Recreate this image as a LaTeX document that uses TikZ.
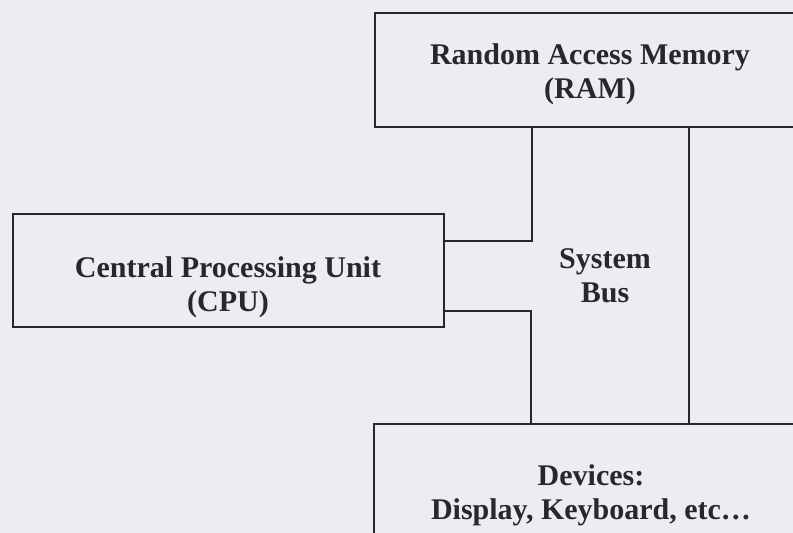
\documentclass[tikz,border=0pt]{standalone}
\usepackage{fontspec}
\setmainfont{Liberation Serif}
\definecolor{paper}{RGB}{236,236,242}
\definecolor{ink}{RGB}{40,40,44}
\begin{document}
\begin{tikzpicture}[x=1pt,y=-1pt,
  unitbox/.style={draw=ink, line width=1.8pt, rectangle, inner sep=0pt, anchor=north west},
  caption/.style={text=ink, font=\bfseries\fontsize{30}{34}\selectfont, align=center, inner sep=0pt},
  wire/.style={draw=ink, line width=1.8pt}]
  % page
  \useasboundingbox (0,0) rectangle (793,533);
  \fill[paper] (0,0) rectangle (793,533);
  \clip (0,0) rectangle (793,533);

  % boxes (RAM and devices run off the page edge)
  \node[unitbox, minimum width=470pt, minimum height=114pt] (ram) at (374,12) {};
  \node[unitbox, minimum width=431pt, minimum height=113pt] (cpu) at (12,213) {};
  \node[unitbox, minimum width=470pt, minimum height=150pt] (dev) at (373,423) {};

  % labels
  \node[caption] (ramtxt) at (590,74) {Random Access Memory\\(RAM)};
  \node[caption] (cputxt) at (228,287) {Central Processing Unit\\(CPU)};
  \node[caption] (bustxt) at (605,276) {System\\Bus};
  \node[caption] (devtxt) at (591,495) {Devices:\\Display, Keyboard, etc\ldots};

  % system bus wiring
  \coordinate (jt) at (532,241);
  \coordinate (jb) at (531,311);
  \coordinate (rail) at (689,0);
  \draw[wire] (ram.south -| jt) -- (jt) -- (cpu.east |- jt);
  \draw[wire] (cpu.east |- jb) -- (jb) -- (dev.north -| jb);
  \draw[wire] (ram.south -| rail) -- (dev.north -| rail);
\end{tikzpicture}
\end{document}
